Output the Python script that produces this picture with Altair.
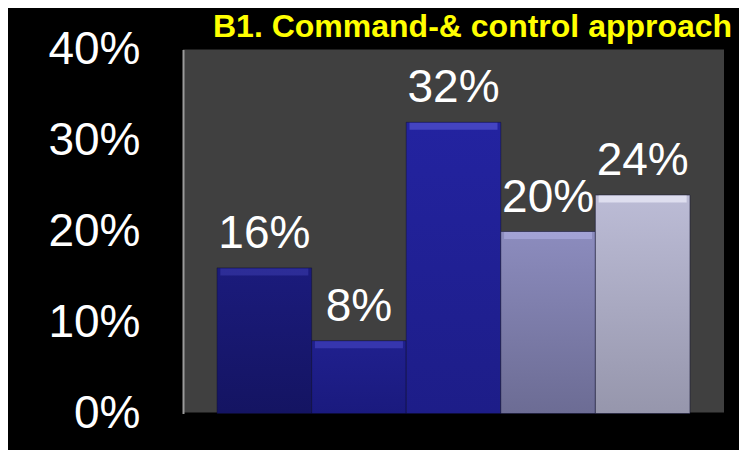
import altair as alt
import pandas as pd

# ---- data ----
categories = ["1", "2", "3", "4", "5"]
values = [0.16, 0.08, 0.32, 0.20, 0.24]
y_ticks = [0.0, 0.1, 0.2, 0.3, 0.4]
title_text = "B1. Command-& control approach"

# bar styling (top / bottom of the gradient, bevel highlight)
bar_top = ["#1b1b7c", "#20208e", "#2323a0", "#8c8cbe", "#bcbcd6"]
bar_bottom = ["#141462", "#1a1a7e", "#1d1d88", "#6c6c94", "#9696ac"]
bar_hilite = ["#3434a4", "#4040bc", "#5252d0", "#ababde", "#ececfa"]

df = pd.DataFrame({"cat": categories, "value": values})

FONT = "Liberation Sans"

x_enc = alt.X(
    "cat:N",
    sort=categories,
    scale=alt.Scale(paddingInner=0, paddingOuter=0.36),
    axis=alt.Axis(labels=False, ticks=False, title=None, domainColor="#000000",
                  domainWidth=3, grid=False),
)
y_enc = alt.Y(
    "value:Q",
    scale=alt.Scale(domain=[0, 0.4], nice=False),
    axis=alt.Axis(values=y_ticks, format=".0%", title=None, ticks=False, grid=False,
                  labelColor="white", labelFont=FONT, labelFontSize=46,
                  labelPadding=43, labelBaseline="middle",
                  domainColor="#9a9a9a", domainWidth=2),
)

base = alt.Chart(df)

layers = []
for i, c in enumerate(categories):
    grad = alt.Gradient(
        gradient="linear",
        stops=[alt.GradientStop(color=bar_top[i], offset=0),
               alt.GradientStop(color=bar_bottom[i], offset=1)],
        x1=0, x2=0, y1=0, y2=1,
    )
    layers.append(
        base.transform_filter(alt.datum.cat == c)
        .mark_bar(color=grad, stroke="#0c0c30", strokeWidth=0.8, strokeOpacity=0.6)
        .encode(x=x_enc, y=y_enc)
    )

hilite = base.mark_tick(thickness=7, yOffset=4, size=88).encode(
    x=alt.X("cat:N", sort=categories),
    y=alt.Y("value:Q"),
    color=alt.Color("cat:N", scale=alt.Scale(domain=categories, range=bar_hilite), legend=None),
)

labels = base.mark_text(
    color="white", font=FONT, fontSize=46, baseline="alphabetic", align="center", dy=-20
).encode(
    x=alt.X("cat:N", sort=categories),
    y=alt.Y("value:Q"),
    text=alt.Text("value:Q", format=".0%"),
)

chart = (
    alt.layer(*layers, hilite, labels)
    .properties(
        width=541,
        height=364,
        background="#000000",
        autosize=alt.AutoSizeParams(type="none"),
        padding={"left": 175, "top": 41.5, "right": 15, "bottom": 36.5},
        title=alt.TitleParams(
            text=title_text, color="#ffff00", font=FONT, fontSize=32, fontWeight="bold",
            anchor="start", frame="group", dx=30, dy=29, offset=12,
        ),
    )
    .configure_view(fill="#404040", stroke=None)
)

chart.save("out.html", embed_options={"renderer": "svg", "actions": False})
